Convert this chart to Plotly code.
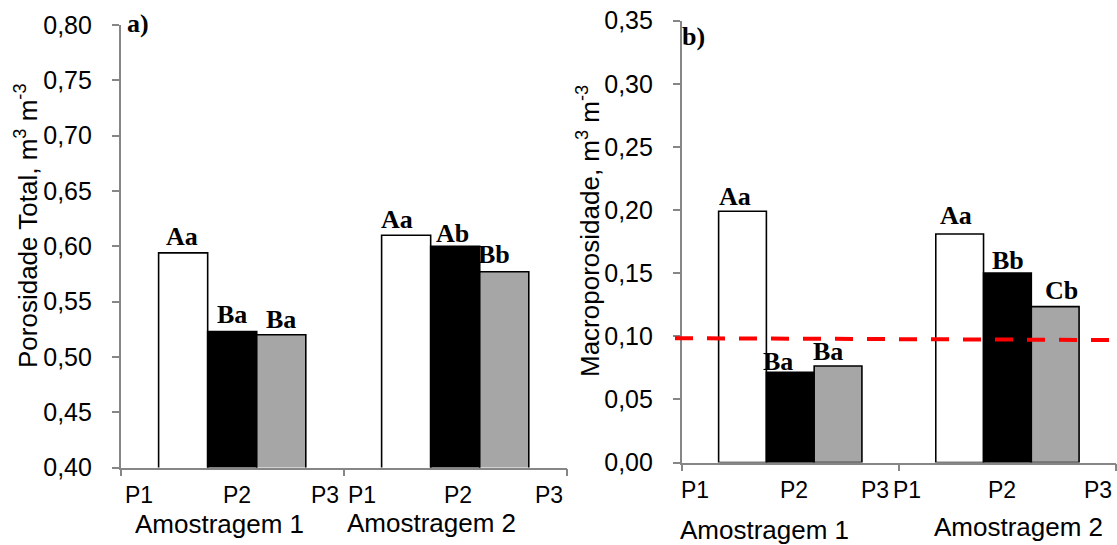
import plotly.graph_objects as go

W, H = 1117, 545

# ---------------- data ----------------
groups = ["Amostragem 1", "Amostragem 2"]
positions = ["P1", "P2", "P3"]

# a) Porosidade total (m3 m-3)
pt_p1 = [0.594, 0.610]
pt_p2 = [0.523, 0.600]
pt_p3 = [0.520, 0.577]
pt_letters_p1 = ["Aa", "Aa"]
pt_letters_p2 = ["Ba", "Ab"]
pt_letters_p3 = ["Ba", "Bb"]

# b) Macroporosidade (m3 m-3)
ma_p1 = [0.199, 0.181]
ma_p2 = [0.0715, 0.150]
ma_p3 = [0.0765, 0.1235]
ma_letters_p1 = ["Aa", "Aa"]
ma_letters_p2 = ["Ba", "Bb"]
ma_letters_p3 = ["Ba", "Cb"]

# critical macroporosity line (start, end)
limit_line = [0.0985, 0.0970]

y_ticks_a = [0.40, 0.45, 0.50, 0.55, 0.60, 0.65, 0.70, 0.75, 0.80]
y_ticks_b = [0.00, 0.05, 0.10, 0.15, 0.20, 0.25, 0.30, 0.35]

# ---------------- style ----------------
SANS = "Liberation Sans, Arial, sans-serif"
SERIF = "Liberation Serif, Times New Roman, serif"
AXC = "#868686"
colors = ["#ffffff", "#000000", "#a6a6a6"]
offsets = [0.28, 0.50, 0.72]
BW = 0.22


def px(x):
    return x / W


def py(y):
    return 1 - y / H


fig = go.Figure()

series_a = [pt_p1, pt_p2, pt_p3]
series_b = [ma_p1, ma_p2, ma_p3]
letters_a = [pt_letters_p1, pt_letters_p2, pt_letters_p3]
letters_b = [ma_letters_p1, ma_letters_p2, ma_letters_p3]

for i, name in enumerate(positions):
    xs = [g + offsets[i] for g in range(len(groups))]
    fig.add_trace(go.Bar(x=xs, y=series_a[i], width=BW, name=name,
                         marker=dict(color=colors[i], line=dict(color="#000000", width=1.6)),
                         xaxis="x", yaxis="y", showlegend=False))
    fig.add_trace(go.Bar(x=xs, y=series_b[i], width=BW, name=name,
                         marker=dict(color=colors[i], line=dict(color="#000000", width=1.6)),
                         xaxis="x2", yaxis="y2", showlegend=False))

# letters above bars
shifts_a = [[(-1, 16), (-9, 16)], [(0, 17), (-3, 13)], [(0, 15), (-10, 17)]]
shifts_b = [[(-8, 15), (-4, 19)], [(-12, 11), (1, 13)], [(-10, 14), (6, 16)]]
annotations = []
for i in range(3):
    for g in range(2):
        annotations.append(dict(x=g + offsets[i], y=series_a[i][g], xref="x", yref="y",
                                text="<b>%s</b>" % letters_a[i][g], showarrow=False,
                                yanchor="middle", xanchor="center",
                                xshift=shifts_a[i][g][0], yshift=shifts_a[i][g][1],
                                font=dict(family=SERIF, size=26, color="#000000")))
        annotations.append(dict(x=g + offsets[i], y=series_b[i][g], xref="x2", yref="y2",
                                text="<b>%s</b>" % letters_b[i][g], showarrow=False,
                                yanchor="middle", xanchor="center",
                                xshift=shifts_b[i][g][0], yshift=shifts_b[i][g][1],
                                font=dict(family=SERIF, size=26, color="#000000")))

# category labels (P1 P2 P3 / Amostragem)
pfont = dict(family=SANS, size=23, color="#000000")
catfont = dict(family=SANS, size=26, color="#000000")
left_p = [139, 237, 325, 362, 458, 549]
right_p = [695, 794, 875, 907, 1002, 1099]
for k, xp in enumerate(left_p):
    annotations.append(dict(x=px(xp), y=py(495), xref="paper", yref="paper",
                            text=positions[k % 3], showarrow=False, font=pfont,
                            xanchor="center", yanchor="middle"))
for k, xp in enumerate(right_p):
    last = (k == len(right_p) - 1)
    annotations.append(dict(x=px(1114) if last else px(xp), y=py(490),
                            xref="paper", yref="paper",
                            text=positions[k % 3], showarrow=False, font=pfont,
                            xanchor="right" if last else "center", yanchor="middle"))
for txt, xp, yp in [(groups[0], 219, 524), (groups[1], 431, 523),
                    (groups[0], 764, 530), (groups[1], 1018, 527)]:
    annotations.append(dict(x=px(xp), y=py(yp), xref="paper", yref="paper",
                            text=txt, showarrow=False, font=catfont,
                            xanchor="center", yanchor="middle"))

# y axis titles
annotations.append(dict(x=px(26), y=py(226), xref="paper", yref="paper",
                        text="Porosidade Total, m<sup>3</sup> m<sup>-3</sup>",
                        textangle=-90, showarrow=False, font=catfont,
                        xanchor="center", yanchor="middle"))
annotations.append(dict(x=px(588), y=py(231), xref="paper", yref="paper",
                        text="Macroporosidade, m<sup>3</sup> m<sup>-3</sup>",
                        textangle=-90, showarrow=False, font=catfont,
                        xanchor="center", yanchor="middle"))

# panel labels
annotations.append(dict(x=px(125), y=py(23), xref="paper", yref="paper",
                        text="<b>a)</b>", showarrow=False,
                        font=dict(family=SERIF, size=26, color="#000000"),
                        xanchor="left", yanchor="middle"))
annotations.append(dict(x=px(680), y=py(37), xref="paper", yref="paper",
                        text="<b>b)</b>", showarrow=False,
                        font=dict(family=SERIF, size=26, color="#000000"),
                        xanchor="left", yanchor="middle"))

xaxis_common = dict(range=[0, 2], tickvals=[0, 1, 2], showticklabels=False,
                    ticks="outside", ticklen=7, tickcolor=AXC, tickwidth=1.5,
                    showline=True, linecolor=AXC, linewidth=1.5, automargin=False,
                    showgrid=False, zeroline=False, fixedrange=True)
yaxis_common = dict(ticks="outside", ticklen=7, tickcolor=AXC, tickwidth=1.5,
                    showline=True, linecolor=AXC, linewidth=1.5, automargin=False,
                    showgrid=False, zeroline=False, tickformat=".2f",
                    tickfont=dict(family=SANS, size=25, color="#000000"),
                    ticklabelstandoff=15, fixedrange=True)

fig.update_layout(
    width=W, height=H,
    margin=dict(l=0, r=0, t=0, b=0, pad=0),
    paper_bgcolor="#ffffff", plot_bgcolor="#ffffff",
    separators=",.",
    barmode="overlay",
    xaxis=dict(domain=[px(120.7), px(566.7)], anchor="y", **xaxis_common),
    yaxis=dict(domain=[py(467.5), py(25)], anchor="x", range=[0.40, 0.80],
               tickvals=y_ticks_a, **yaxis_common),
    xaxis2=dict(domain=[px(681.7), px(1116)], anchor="y2", **xaxis_common),
    yaxis2=dict(domain=[py(462.5), py(20.7)], anchor="x2", range=[0, 0.35],
                tickvals=y_ticks_b, **yaxis_common),
    annotations=annotations,
    shapes=[dict(type="line", xref="x2 domain", yref="y2",
                 x0=-0.0154, x1=1.0, y0=limit_line[0], y1=limit_line[1],
                 line=dict(color="#ff0000", width=4, dash="18px,14px"),
                 layer="above")],
)

fig.write_html("out.html",
               config={"displayModeBar": False},
               post_script="document.body.style.margin='0';"
                           "document.body.style.overflow='hidden';")
